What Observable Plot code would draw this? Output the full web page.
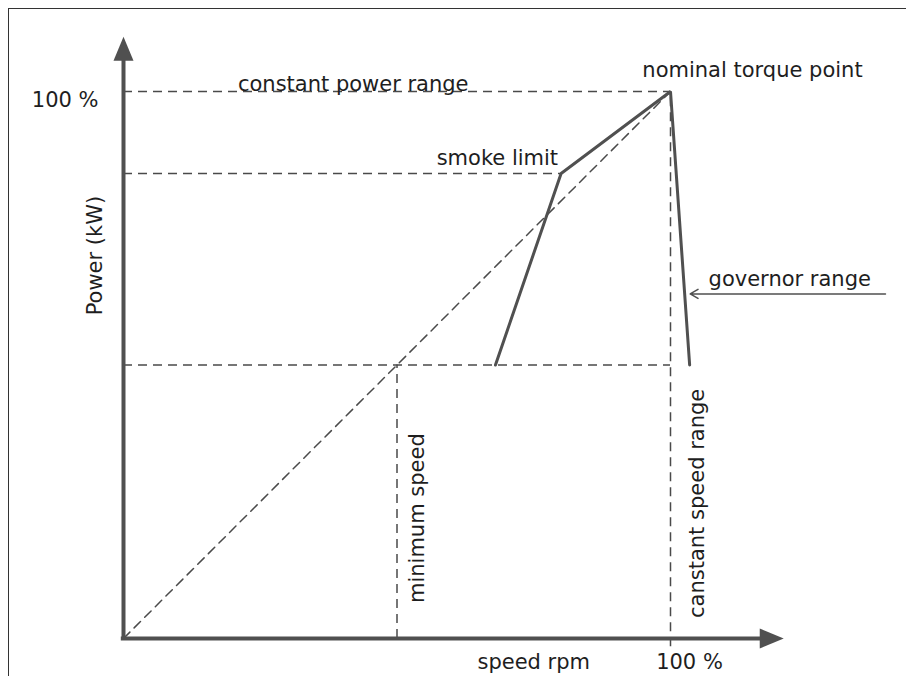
<!DOCTYPE html>
<html>
<head>
<meta charset="utf-8">
<script src="https://cdn.jsdelivr.net/npm/d3@7"></script>
<script src="https://cdn.jsdelivr.net/npm/@observablehq/plot@0.6"></script>
<style>
  html, body { margin: 0; padding: 0; background: #fff; }
  #wrap { position: relative; width: 906px; height: 676px; overflow: hidden; }
  #frame { position: absolute; left: 8px; top: 8px; width: 1000px; height: 1000px;
           border-left: 1.5px solid #333; border-top: 1.5px solid #333; pointer-events: none; }
  svg { display: block; }
</style>
</head>
<body>
<div id="wrap"><div id="frame"></div></div>
<script>
// Engine characteristic (speed % vs power %)
const curveSpeed = [68, 80, 100, 103.5];
const curvePower = [50, 85, 100, 50];

const minimumSpeed = 50;      // % rpm
const lowPower = 50;          // % power at minimum speed
const smokeSpeed = 80;
const smokePower = 85;
const nominalSpeed = 100;
const nominalPower = 100;
const governorPower = 63;

const labels = {
  constantPower: "constant power range",
  nominal: "nominal torque point",
  smoke: "smoke limit",
  governor: "governor range",
  yTitle: "Power (kW)",
  minSpeed: "minimum speed",
  constSpeed: "canstant speed range",
  xTitle: "speed rpm",
  yTick: "100 %",
  xTick: "100 %"
};

const curve = curveSpeed.map((s, i) => ({speed: s, power: curvePower[i]}));

const gray = "#505050";
const ink = "#1e1e1e";
const font = "DejaVu Sans, sans-serif";

const arrowUp = {draw(ctx) { ctx.moveTo(0, 0); ctx.lineTo(-10, 24); ctx.lineTo(10, 24); ctx.closePath(); }};
const arrowRight = {draw(ctx) { ctx.moveTo(0, 0); ctx.lineTo(-24, -10); ctx.lineTo(-24, 10); ctx.closePath(); }};

const dashed = {stroke: "#4a4a4a", strokeWidth: 1.5, strokeDasharray: "9,6"};

const chart = Plot.plot({
  width: 906,
  height: 676,
  marginLeft: 123,
  marginRight: 236,
  marginTop: 91,
  marginBottom: 38,
  x: {domain: [0, 100], axis: null},
  y: {domain: [0, 100], axis: null},
  style: {fontFamily: font, fontSize: "21px", color: ink, background: "transparent", overflow: "visible"},
  marks: [
    // dashed guides
    Plot.line([{speed: 0, power: 0}, {speed: nominalSpeed, power: nominalPower}], {x: "speed", y: "power", ...dashed}),
    Plot.ruleY([nominalPower], {x1: 0, x2: nominalSpeed, ...dashed}),
    Plot.ruleY([smokePower], {x1: 0, x2: smokeSpeed, ...dashed}),
    Plot.ruleY([lowPower], {x1: 0, x2: nominalSpeed, ...dashed}),
    Plot.ruleX([minimumSpeed], {y1: 0, y2: lowPower, ...dashed}),
    Plot.ruleX([nominalSpeed], {y1: -1.5, y2: nominalPower, ...dashed}),
    // characteristic curve
    Plot.line(curve, {x: "speed", y: "power", stroke: gray, strokeWidth: 3, strokeLinejoin: "miter"}),
    // axes with arrowheads
    Plot.ruleX([0], {y1: 0, y2: 106, stroke: gray, strokeWidth: 4}),
    Plot.ruleY([0], {x1: -0.4, x2: 117, stroke: gray, strokeWidth: 4}),
    Plot.dot([{speed: 0, power: 110}], {x: "speed", y: "power", symbol: arrowUp, fill: gray, stroke: "none"}),
    Plot.dot([{speed: 120.7, power: 0}], {x: "speed", y: "power", symbol: arrowRight, fill: gray, stroke: "none"}),
    // governor arrow
    Plot.arrow([{x1: 139.3, x2: 103.6, y: governorPower}], {x1: "x1", x2: "x2", y1: "y", y2: "y", stroke: gray, strokeWidth: 1.5, headLength: 9}),
    // texts
    Plot.text([labels.constantPower], {x: 42, y: nominalPower, dy: -7, fill: ink}),
    Plot.text([labels.nominal], {x: nominalSpeed, y: nominalPower, dx: 82, dy: -21, fill: ink}),
    Plot.text([labels.smoke], {x: smokeSpeed, y: smokePower, dx: -3, dy: -15, textAnchor: "end", fill: ink}),
    Plot.text([labels.governor], {x: 121.8, y: governorPower, dy: -15, fill: ink}),
    Plot.text([labels.yTitle], {x: 0, y: 70, dx: -28, rotate: -90, fill: ink}),
    Plot.text([labels.minSpeed], {x: minimumSpeed, y: 22, dx: 20, rotate: -90, fill: ink}),
    Plot.text([labels.constSpeed], {x: nominalSpeed, y: 24.7, dx: 27, rotate: -90, fill: ink}),
    Plot.text([labels.xTitle], {x: 75, y: 0, dy: 24, fill: ink}),
    Plot.text([labels.xTick], {x: nominalSpeed, y: 0, dx: 19, dy: 24, fill: ink}),
    Plot.text([labels.yTick], {x: 0, y: nominalPower, dx: -25, dy: 9, textAnchor: "end", fill: ink})
  ]
});
document.getElementById("wrap").prepend(chart);
</script>
</body>
</html>
